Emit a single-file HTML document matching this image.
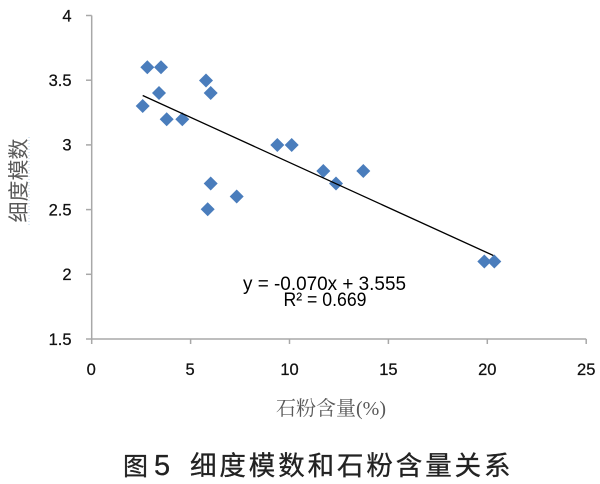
<!DOCTYPE html>
<html>
<head>
<meta charset="utf-8">
<style>
  html,body{margin:0;padding:0;background:#fff;}
  svg{display:block;}
</style>
</head>
<body>
<svg width="600" height="484" viewBox="0 0 600 484" xmlns="http://www.w3.org/2000/svg">
  <rect x="0" y="0" width="600" height="484" fill="#ffffff"/>

  <!-- axes -->
  <g stroke="#a8a8a8" stroke-width="1.5" fill="none">
    <line x1="91.7" y1="15.5" x2="91.7" y2="344"/>
    <line x1="86" y1="339" x2="586.2" y2="339"/>
    <!-- y ticks -->
    <line x1="86" y1="15.5" x2="91.7" y2="15.5"/>
    <line x1="86" y1="80.2" x2="91.7" y2="80.2"/>
    <line x1="86" y1="144.9" x2="91.7" y2="144.9"/>
    <line x1="86" y1="209.6" x2="91.7" y2="209.6"/>
    <line x1="86" y1="274.3" x2="91.7" y2="274.3"/>
    <!-- x ticks -->
    <line x1="190.6" y1="339" x2="190.6" y2="344"/>
    <line x1="289.5" y1="339" x2="289.5" y2="344"/>
    <line x1="388.4" y1="339" x2="388.4" y2="344"/>
    <line x1="487.3" y1="339" x2="487.3" y2="344"/>
    <line x1="586.2" y1="339" x2="586.2" y2="344"/>
  </g>

  <!-- y tick labels -->
  <g font-family="'Liberation Sans', sans-serif" font-size="16.5" fill="#111" stroke="#111" stroke-width="0.25" text-anchor="end">
    <text x="71.5" y="21.3">4</text>
    <text x="71.5" y="86">3.5</text>
    <text x="71.5" y="150.7">3</text>
    <text x="71.5" y="215.4">2.5</text>
    <text x="71.5" y="280.1">2</text>
    <text x="71.5" y="344.8">1.5</text>
  </g>

  <!-- x tick labels -->
  <g font-family="'Liberation Sans', sans-serif" font-size="16.5" fill="#111" stroke="#111" stroke-width="0.25" text-anchor="middle">
    <text x="91.2" y="375">0</text>
    <text x="190.1" y="375">5</text>
    <text x="289.5" y="375">10</text>
    <text x="388.4" y="375">15</text>
    <text x="487.3" y="375">20</text>
    <text x="586.2" y="375">25</text>
  </g>

  <!-- data points -->
  <g fill="#4a7dbc">
    <path d="M147.3 60.3 L154.3 67.3 L147.3 74.3 L140.3 67.3 Z"/>
    <path d="M161 60.3 L168 67.3 L161 74.3 L154 67.3 Z"/>
    <path d="M206 73.5 L213 80.5 L206 87.5 L199 80.5 Z"/>
    <path d="M159 86 L166 93 L159 100 L152 93 Z"/>
    <path d="M210.7 86 L217.7 93 L210.7 100 L203.7 93 Z"/>
    <path d="M142.7 99 L149.7 106 L142.7 113 L135.7 106 Z"/>
    <path d="M166.7 112.3 L173.7 119.3 L166.7 126.3 L159.7 119.3 Z"/>
    <path d="M182.3 112.3 L189.3 119.3 L182.3 126.3 L175.3 119.3 Z"/>
    <path d="M210.7 176.5 L217.7 183.5 L210.7 190.5 L203.7 183.5 Z"/>
    <path d="M236.7 189.5 L243.7 196.5 L236.7 203.5 L229.7 196.5 Z"/>
    <path d="M207.7 202.2 L214.7 209.2 L207.7 216.2 L200.7 209.2 Z"/>
    <path d="M277.3 138 L284.3 145 L277.3 152 L270.3 145 Z"/>
    <path d="M291.7 138 L298.7 145 L291.7 152 L284.7 145 Z"/>
    <path d="M323.3 164 L330.3 171 L323.3 178 L316.3 171 Z"/>
    <path d="M336 176.5 L343 183.5 L336 190.5 L329 183.5 Z"/>
    <path d="M363.3 164 L370.3 171 L363.3 178 L356.3 171 Z"/>
    <path d="M484.3 254.5 L491.3 261.5 L484.3 268.5 L477.3 261.5 Z"/>
    <path d="M494.3 254.5 L501.3 261.5 L494.3 268.5 L487.3 261.5 Z"/>
  </g>

  <!-- trend line -->
  <line x1="142.7" y1="95.5" x2="493.3" y2="255.5" stroke="#000" stroke-width="1.3"/>

  <!-- equation -->
  <g font-family="'Liberation Sans', sans-serif" font-size="19" fill="#000" text-anchor="middle">
    <text x="324.5" y="290" textLength="163" lengthAdjust="spacingAndGlyphs">y = -0.070x + 3.555</text>
    <text x="325" y="306" textLength="83" lengthAdjust="spacingAndGlyphs">R² = 0.669</text>
  </g>

  <!-- y axis title -->
  <line x1="29" y1="137" x2="29" y2="225" stroke="#bcd4ee" stroke-width="1" stroke-dasharray="1,2"/>
  <text transform="translate(26,180.5) rotate(-90)" x="0" y="0" text-anchor="middle"
        font-family="'Noto Sans CJK SC', sans-serif" font-size="21" fill="#595959">细度模数</text>

  <!-- x axis title -->
  <text x="276" y="415" font-family="'Liberation Serif', 'Noto Serif CJK SC', serif" font-size="20" fill="#595959">石粉含量(%)</text>

  <!-- caption -->
  <g fill="#222" stroke="#222" stroke-width="0.3" font-family="'Liberation Sans', 'Noto Sans CJK SC', sans-serif">
    <text x="123" y="475" font-size="25">图</text>
    <text x="154" y="475" font-size="29">5</text>
    <text x="190" y="475" font-size="26.5" letter-spacing="2.9">细度模数和石粉含量关系</text>
  </g>
</svg>
</body>
</html>
